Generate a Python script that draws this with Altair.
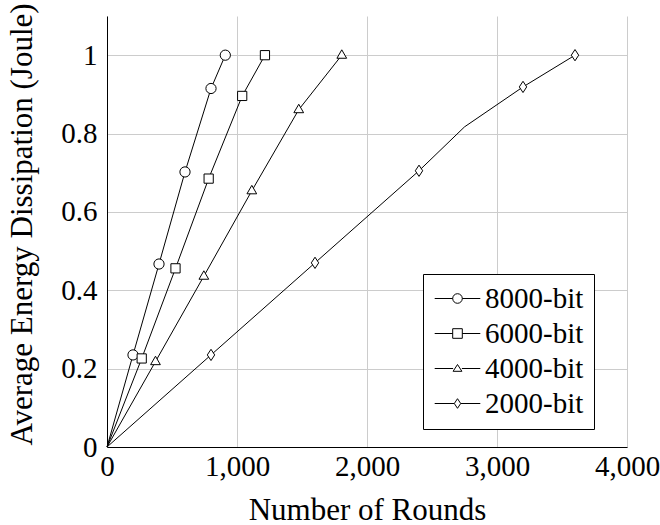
import altair as alt
import pandas as pd

series_names = ["8000-bit", "6000-bit", "4000-bit", "2000-bit"]

x_8000 = [0, 200, 400, 600, 800, 910]
y_8000 = [0, 0.235, 0.467, 0.702, 0.915, 1.0]
m_8000 = [False, True, True, True, True, True]

x_6000 = [0, 267, 527, 782, 1040, 1215]
y_6000 = [0, 0.226, 0.456, 0.685, 0.896, 1.0]
m_6000 = [False, True, True, True, True, True]

x_4000 = [0, 373, 745, 1114, 1475, 1806]
y_4000 = [0, 0.218, 0.436, 0.654, 0.861, 1.0]
m_4000 = [False, True, True, True, True, True]

x_2000 = [0, 800, 1600, 2400, 2750, 3200, 3600]
y_2000 = [0, 0.235, 0.470, 0.705, 0.817, 0.919, 1.0]
m_2000 = [False, True, True, True, False, True, True]

x_ticks = [0, 1000, 2000, 3000, 4000]
y_ticks = [0, 0.2, 0.4, 0.6, 0.8, 1.0]

rows = []
for name, xs, ys, ms in zip(series_names,
                            [x_8000, x_6000, x_4000, x_2000],
                            [y_8000, y_6000, y_4000, y_2000],
                            [m_8000, m_6000, m_4000, m_2000]):
    for i, (xv, yv, mv) in enumerate(zip(xs, ys, ms)):
        rows.append({"series": name, "x": xv, "y": yv, "marked": mv, "idx": i})
df = pd.DataFrame(rows)

# marker shapes for plot
circle = "M-1,0A1,1,0,1,1,1,0A1,1,0,1,1,-1,0Z"
square = "M-0.9,-0.9H0.9V0.9H-0.9Z"
triangle = "M0,-1.05L0.95,0.6H-0.95Z"
diamond = "M0,-1.1L0.72,0L0,1.1L-0.72,0Z"
plot_shapes = [circle, square, triangle, diamond]

# legend symbols: line stubs + hollow marker (unit = sqrt(size)/2 px)
L = 2.85
lg_circle = f"M-{L},0H-0.6M0.6,0H{L}M-0.6,0A0.6,0.6,0,1,1,0.6,0A0.6,0.6,0,1,1,-0.6,0Z"
lg_square = f"M-{L},0H-0.6M0.6,0H{L}M-0.6,-0.6H0.6V0.6H-0.6Z"
lg_triangle = f"M-{L},0H-0.55M0.55,0H{L}M0,-0.5L0.55,0.35H-0.55Z"
lg_diamond = f"M-{L},0H-0.4M0.4,0H{L}M0,-0.6L0.4,0L0,0.6L-0.4,0Z"
legend_shapes = [lg_circle, lg_square, lg_triangle, lg_diamond]

FONT = "Liberation Serif"

xenc = alt.X("x:Q", scale=alt.Scale(domain=[0, 4000], nice=False, zero=True),
             axis=alt.Axis(values=x_ticks, format=",d", title="Number of Rounds",
                           labelFontSize=29, titleFontSize=31, labelPadding=5,
                           titlePadding=14, ticks=False, domainColor="black",
                           labelFlush=False, labelOverlap=False,
                           gridColor="#cccccc", labelFont=FONT, titleFont=FONT,
                           titleFontWeight="normal", labelColor="black", titleColor="black"))
yenc = alt.Y("y:Q", scale=alt.Scale(domain=[0, 1.1], nice=False, zero=True),
             axis=alt.Axis(values=y_ticks, format=".1~f", title="Average Energy Dissipation (Joule)",
                           labelFontSize=29, titleFontSize=31, labelPadding=10,
                           titlePadding=22, ticks=False, domainColor="black",
                           labelFlush=False, labelOverlap=False, titleY=208,
                           gridColor="#cccccc", labelFont=FONT, titleFont=FONT,
                           titleFontWeight="normal", labelColor="black", titleColor="black"))

base = alt.Chart(df)

lines = base.mark_line(color="black", strokeWidth=1).encode(
    x=xenc, y=yenc, detail="series:N", order="idx:Q")

points = base.transform_filter("datum.marked").mark_point(
    filled=True, fill="white", stroke="black", strokeWidth=1, opacity=1, size=105
).encode(
    x="x:Q", y="y:Q",
    shape=alt.Shape("series:N", scale=alt.Scale(domain=series_names, range=plot_shapes), legend=None),
)

# legend-only layer: its points sit outside the plot and are clipped away
legend_layer = base.transform_filter("datum.marked").transform_calculate(
    lx="-1000"
).mark_point(
    filled=False, color="black", strokeWidth=1, opacity=1, size=256, clip=True
).encode(
    x="lx:Q", y="y:Q",
    shape=alt.Shape("series:N", scale=alt.Scale(domain=series_names, range=legend_shapes),
                    legend=alt.Legend(title=None, orient="none", legendX=316, legendY=258,
                                      labelFont=FONT, labelFontSize=29, labelColor="black",
                                      symbolSize=256, symbolStrokeColor="black",
                                      symbolStrokeWidth=1, symbolOpacity=1,
                                      symbolOffset=10, labelOffset=13, rowPadding=5,
                                      padding=10, strokeColor="black", fillColor="white")),
)

chart = alt.layer(lines, points, legend_layer).resolve_scale(shape="independent").properties(
    width=520, height=431,
    autosize=alt.AutoSizeParams(type="none"),
    padding={"left": 107, "top": 16, "right": 33, "bottom": 78},
    background="white",
).configure_view(stroke=None)

chart.save("out.html", embed_options={"renderer": "svg", "actions": False})
